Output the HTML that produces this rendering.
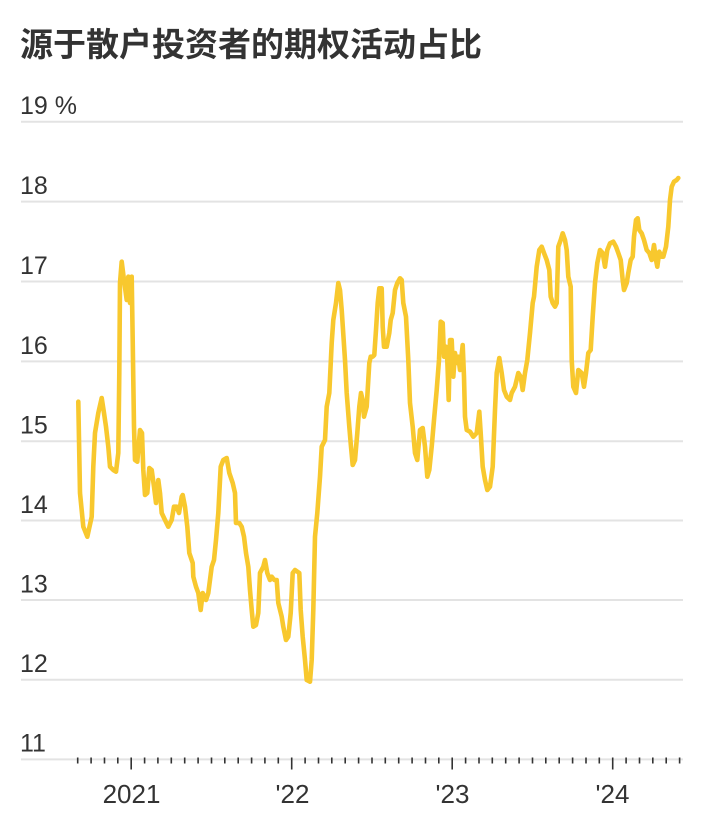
<!DOCTYPE html>
<html><head><meta charset="utf-8"><style>
html,body{margin:0;padding:0;background:#fff;}
svg{display:block;}
</style></head><body>
<svg width="705" height="825" viewBox="0 0 705 825" xmlns="http://www.w3.org/2000/svg">
<rect width="705" height="825" fill="#fff"/>
<text x="20" y="56" font-family="'Liberation Sans','Noto Sans CJK SC',sans-serif" font-size="33" font-weight="bold" fill="#333">源于散户投资者的期权活动占比</text>
<g stroke="#e3e3e3" stroke-width="2">
<line x1="21" x2="683" y1="121.7" y2="121.7"/>
<line x1="21" x2="683" y1="201.6" y2="201.6"/>
<line x1="21" x2="683" y1="281.5" y2="281.5"/>
<line x1="21" x2="683" y1="361.4" y2="361.4"/>
<line x1="21" x2="683" y1="441.3" y2="441.3"/>
<line x1="21" x2="683" y1="520.5" y2="520.5"/>
<line x1="21" x2="683" y1="600" y2="600"/>
<line x1="21" x2="683" y1="679.7" y2="679.7"/>
<line x1="21" x2="683" y1="759.4" y2="759.4"/>
</g>
<g font-family="'Liberation Sans',sans-serif" font-size="25" fill="#333">
<text x="20" y="114">19 %</text>
<text x="20" y="194">18</text>
<text x="20" y="274">17</text>
<text x="20" y="354">16</text>
<text x="20" y="433.5">15</text>
<text x="20" y="513">14</text>
<text x="20" y="592.5">13</text>
<text x="20" y="672">12</text>
<text x="20" y="751.7">11</text>
</g>
<g font-family="'Liberation Sans',sans-serif" font-size="26" fill="#333" text-anchor="middle">
<text x="131.5" y="803">2021</text>
<text x="292.5" y="803">'22</text>
<text x="452.5" y="803">'23</text>
<text x="612.5" y="803">'24</text>
</g>
<g stroke="#333" stroke-width="1.6">
<line x1="77.7" x2="77.7" y1="757.5" y2="763.5"/><line x1="91.1" x2="91.1" y1="757.5" y2="763.5"/><line x1="104.5" x2="104.5" y1="757.5" y2="763.5"/><line x1="117.8" x2="117.8" y1="757.5" y2="763.5"/><line x1="131.2" x2="131.2" y1="757.5" y2="769.5"/><line x1="144.6" x2="144.6" y1="757.5" y2="763.5"/><line x1="157.9" x2="157.9" y1="757.5" y2="763.5"/><line x1="171.3" x2="171.3" y1="757.5" y2="763.5"/><line x1="184.7" x2="184.7" y1="757.5" y2="763.5"/><line x1="198.1" x2="198.1" y1="757.5" y2="763.5"/><line x1="211.5" x2="211.5" y1="757.5" y2="763.5"/><line x1="224.8" x2="224.8" y1="757.5" y2="763.5"/><line x1="238.2" x2="238.2" y1="757.5" y2="763.5"/><line x1="251.6" x2="251.6" y1="757.5" y2="763.5"/><line x1="264.9" x2="264.9" y1="757.5" y2="763.5"/><line x1="278.3" x2="278.3" y1="757.5" y2="763.5"/><line x1="291.7" x2="291.7" y1="757.5" y2="769.5"/><line x1="305.1" x2="305.1" y1="757.5" y2="763.5"/><line x1="318.5" x2="318.5" y1="757.5" y2="763.5"/><line x1="331.8" x2="331.8" y1="757.5" y2="763.5"/><line x1="345.2" x2="345.2" y1="757.5" y2="763.5"/><line x1="358.6" x2="358.6" y1="757.5" y2="763.5"/><line x1="372" x2="372" y1="757.5" y2="763.5"/><line x1="385.3" x2="385.3" y1="757.5" y2="763.5"/><line x1="398.7" x2="398.7" y1="757.5" y2="763.5"/><line x1="412.1" x2="412.1" y1="757.5" y2="763.5"/><line x1="425.5" x2="425.5" y1="757.5" y2="763.5"/><line x1="438.8" x2="438.8" y1="757.5" y2="763.5"/><line x1="452.2" x2="452.2" y1="757.5" y2="769.5"/><line x1="465.6" x2="465.6" y1="757.5" y2="763.5"/><line x1="479" x2="479" y1="757.5" y2="763.5"/><line x1="492.3" x2="492.3" y1="757.5" y2="763.5"/><line x1="505.7" x2="505.7" y1="757.5" y2="763.5"/><line x1="519.1" x2="519.1" y1="757.5" y2="763.5"/><line x1="532.5" x2="532.5" y1="757.5" y2="763.5"/><line x1="545.8" x2="545.8" y1="757.5" y2="763.5"/><line x1="559.2" x2="559.2" y1="757.5" y2="763.5"/><line x1="572.6" x2="572.6" y1="757.5" y2="763.5"/><line x1="586" x2="586" y1="757.5" y2="763.5"/><line x1="599.3" x2="599.3" y1="757.5" y2="763.5"/><line x1="612.7" x2="612.7" y1="757.5" y2="769.5"/><line x1="626.1" x2="626.1" y1="757.5" y2="763.5"/><line x1="639.5" x2="639.5" y1="757.5" y2="763.5"/><line x1="652.8" x2="652.8" y1="757.5" y2="763.5"/><line x1="666.2" x2="666.2" y1="757.5" y2="763.5"/><line x1="679.6" x2="679.6" y1="757.5" y2="763.5"/>
</g>
<polyline fill="none" stroke="#f8c82e" stroke-width="4.6" stroke-linejoin="round" stroke-linecap="round" points="
78.3,401.7 80,493 83.3,526.7 87.3,536.7 91.7,516.7 93.3,466.7 95,433 98.3,413 101.7,398 104,413 106,426.7 108.3,446.7 110,466.7 113.3,470 116,471.7 118.3,453 119.3,373 120,283 121.7,261.7 124,280 126.7,300 128.3,276.7 130,303 131.7,276.7 132.7,340 134,426.7 135,460 137.3,461.7 140,430 142,433 143.3,470 145,495 147.3,493 149.3,468 151.7,470 154,486.7 156,503 158.3,480 160,493 161.7,513 165,520 168.3,526.7 171.7,520 174,506.7 176.7,506.7 179,513 181.7,496.7
182.7,495 185,506.7 187.3,526.7 189.3,553 192.7,563 193.3,576.7 196,586.7 198.3,593 200.7,610 202.7,593 206,600 208.3,593 211.7,566.7 214,560 216,540 218.3,513 220.7,466.7 223.3,460 226.7,458 229.3,473 232.7,483 235,493 236,523 239.3,523 241.7,526.7 244,536.7 246,553 248.3,566.7 250,590 251.7,610 253.3,626.7 256,625 258.3,613 260,573 263.3,566.7 265,560 267.3,573 270,580 271.7,576.7 274.3,580 276.7,580 278.3,603 281.7,616.7 283.3,626.7 286,640 288.3,636.7 290.7,613 292.7,573 295,570 299.3,573 300.7,610 302.7,636.7 305,660 306.7,680 310,681.7 311.7,660 313.3,610 315,536.7 317.3,513 320,476.7 321.7,446.7 325,440 326.7,406.7 329.3,393 331.7,343 333.3,320 336,303 338.3,283 340,290
341.7,310 345,360 346.7,393 349.3,426.7 351,446.7 352.7,465 355,460 357.3,433 359.3,406.7 361,393 362.7,400 364,416.7 366.7,406.7 369.3,363 370.7,356.7 372.7,356.7 374.3,355 376,330 377.7,303 379.3,288.3 381.7,288.3 382.7,326.7 384,346.7 386.7,346.7 389.3,333 390.7,320 392.7,313 395,290 397.3,283 400,278.3 401.7,280 403.3,303 406,316.7 408.3,360 410,403 412.7,426.7 415,453 417.3,460 420,430 422.7,428 425,446.7 427.3,476.7 429.3,470 431.7,446.7 434,420 436.7,390 439,360 440.7,321.7 442.7,323 444,356.7 446,346.7 447.3,360 448.7,400 450,340 451.7,340 453.3,376.7 455,353 456.7,363 458.3,356.7 460,370 462.7,345 464,376.7 465,416.7 466.7,430 470,431.7 473.3,436.7 476.7,433 479.3,411.7 480.7,433 482.7,466.7 485,480 487.3,490 490,486.7 492.7,466.7 495,410 496.7,373 499.3,358 501.7,373 504,390 506.7,396.7 510,400 511.7,393 515,386.7 518.3,373 520.7,376.7 522.7,390 525,373 527.3,360 530,333 532.7,303 534,296.7 536.7,266.7 539.3,250 541.7,246.7 544,253 546.7,260 549.3,270 550.7,296.7 552.7,303 555,306.7 556.7,303 558.3,246.7 560.7,240 562.7,233.3 565,240 566.7,250 568.3,276.7 570.7,286.7 571.7,360 573.3,386.7 576,393 578.3,370 581.7,373 584,386.7 586,373 588.3,353 590.7,350 592.7,316.7 595,283 597.3,263 600,250 602.7,253 605,266.7 607.3,250 610,243.3 613.3,241.7 616,246.7 618.3,253 620.7,260 622.7,280 624,290 626.7,283 628.3,273 630.7,260 632.7,256.7 634,236.7 636,220 637.7,218.3 639.3,230 641.7,233.3 644,240 646.7,250 649.3,253 651.7,260 654,245 656,260 657.3,266.7 659.3,251.7 661.7,256.7 663.3,256.7 666,246.7 668.3,226.7 670,200 671.7,186.7 674,181.7 676.7,180 678.3,178"/>
</svg>
</body></html>
